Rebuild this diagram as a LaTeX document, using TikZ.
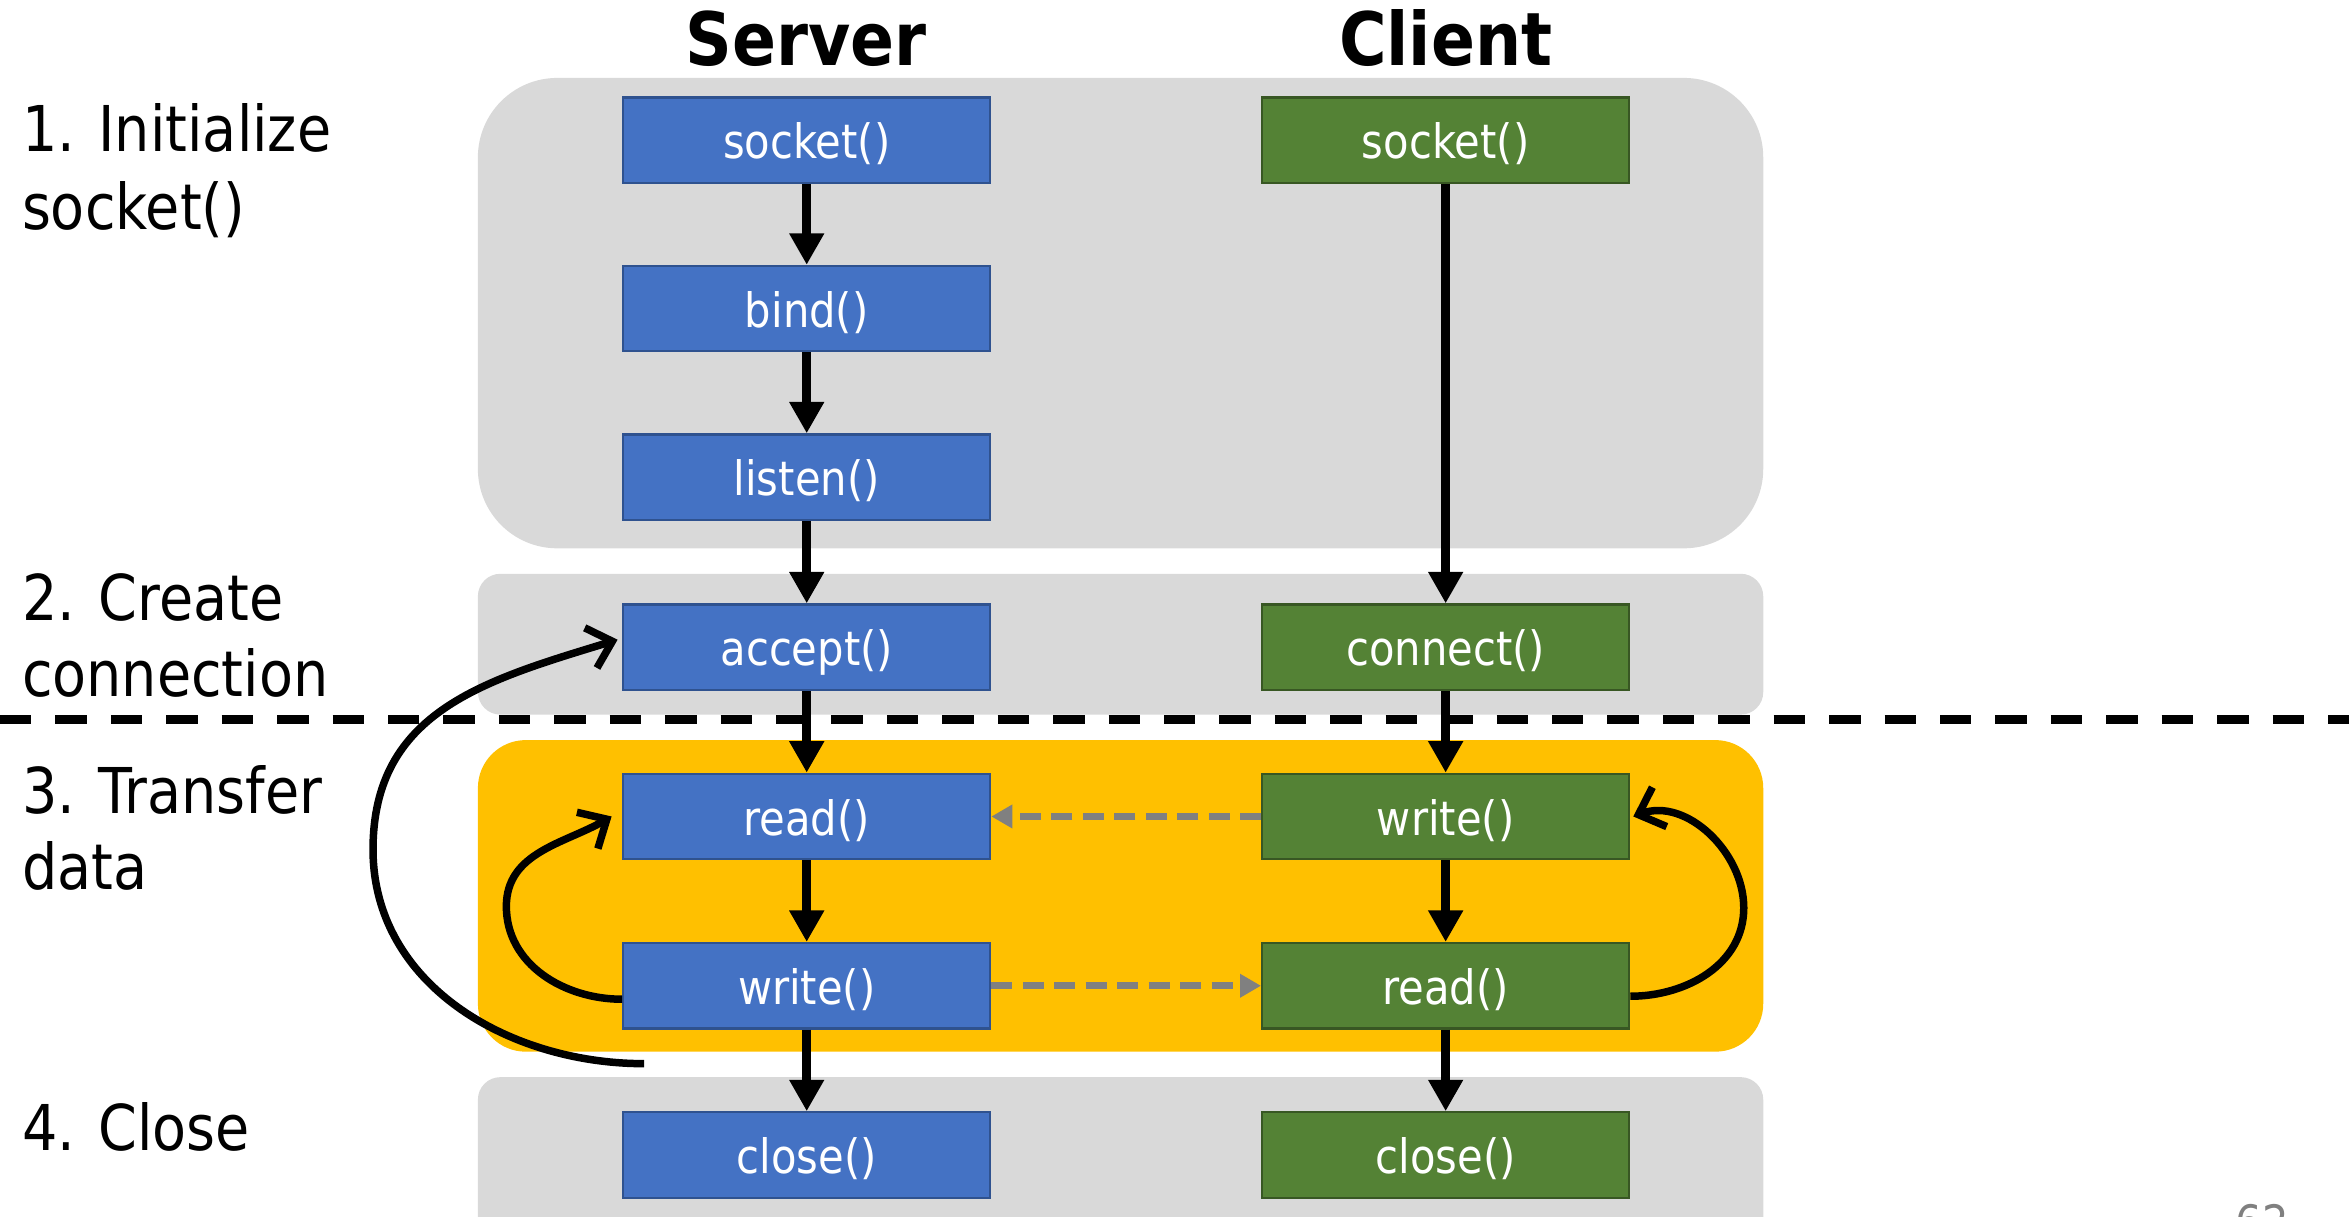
\documentclass[tikz,border=0pt]{standalone}
\usepackage{fontspec}
\setmainfont{DejaVu Sans}[FakeStretch=0.88]
\usetikzlibrary{arrows.meta}
\definecolor{srvblue}{HTML}{4472C4}
\definecolor{srvedge}{HTML}{2F528F}
\definecolor{cligreen}{HTML}{548235}
\definecolor{cliedge}{HTML}{385723}
\definecolor{panelgray}{HTML}{D9D9D9}
\definecolor{panelyellow}{HTML}{FFC000}
\definecolor{msggray}{HTML}{808080}
\begin{document}
\begin{tikzpicture}[x=0.1mm,y=-0.1mm,
  srv/.style={draw=srvedge, fill=srvblue, line width=0.15mm, minimum width=24.5mm, minimum height=5.7mm, inner sep=0pt, text height=2.9mm, text depth=0.4mm, text=white, font=\fontsize{9}{10}\selectfont},
  cli/.style={srv, draw=cliedge, fill=cligreen},
  flow/.style={line width=0.6mm, -{Triangle[length=2.1mm,width=2.2mm]}},
  loopback/.style={line width=0.5mm, -{Straight Barb[length=1.5mm,width=2.8mm]}},
  msg/.style={draw=msggray, line width=0.45mm, dash pattern=on 1.4mm off 0.7mm, -{Triangle[length=1.4mm,width=1.5mm,fill=msggray]}},
  coltitle/.style={anchor=base, inner sep=0pt, font=\fontsize{14}{16}\selectfont\bfseries},
  stage/.style={anchor=base west, inner sep=0pt, font=\fontsize{12}{14}\selectfont},
]
\useasboundingbox (0,0) rectangle (1568,812);
\clip (0,0) rectangle (1568,812);

% panels
\fill[panelgray, rounded corners=5.3mm] (319,52) rectangle (1177,366);
\fill[panelgray, rounded corners=1.5mm] (319,383) rectangle (1177,477);
\fill[panelyellow, rounded corners=3.2mm] (319,494) rectangle (1177,702);
\fill[panelgray, rounded corners=1.5mm] (319,719) rectangle (1177,850);

% titles
\node[coltitle] (srvtitle) at (538,44) {Server};
\node[coltitle] (clititle) at (965,44) {Client};

% stage labels
\node[stage] (st1a) at (14,101) {1. Initialize};
\node[stage] (st1b) at (14,153) {socket()};
\node[stage] (st2a) at (14,414.5) {2. Create};
\node[stage] (st2b) at (14,465) {connection};
\node[stage] (st3a) at (14,543) {3. Transfer};
\node[stage] (st3b) at (14,593.5) {data};
\node[stage] (st4a) at (14,768) {4. Close};

% separator
\coordinate (sepl) at (0,480);
\coordinate (sepr) at (1568,480);
\draw[line width=0.6mm, dash pattern=on 2.1mm off 1.6mm] (sepl) -- (sepr);

% server nodes
\node[srv] (ssocket) at (538.5,93.5) {socket()};
\node[srv] (sbind)   at (538.5,206) {bind()};
\node[srv] (slisten) at (538.5,318.5) {listen()};
\node[srv] (saccept) at (538.5,432) {accept()};
\node[srv] (sread)   at (538.5,545) {read()};
\node[srv] (swrite)  at (538.5,658) {write()};
\node[srv] (sclose)  at (538.5,771) {close()};

% client nodes
\node[cli] (csocket)  at (965,93.5) {socket()};
\node[cli] (cconnect) at (965,432) {connect()};
\node[cli] (cwrite)   at (965,545) {write()};
\node[cli] (cread)    at (965,658) {read()};
\node[cli] (cclose)   at (965,771) {close()};

% server flow
\draw[flow] (ssocket) -- (sbind);
\draw[flow] (sbind) -- (slisten);
\draw[flow] (slisten) -- (saccept);
\draw[flow] (saccept) -- (sread);
\draw[flow] (sread) -- (swrite);
\draw[flow] (swrite) -- (sclose);

% client flow
\draw[flow] (csocket) -- (cconnect);
\draw[flow] (cconnect) -- (cwrite);
\draw[flow] (cwrite) -- (cread);
\draw[flow] (cread) -- (cclose);

% messages
\draw[msg] (cwrite.west) -- (sread.east);
\draw[msg] (swrite.east) -- (cread.west);

% loops
\coordinate (bigstart) at (430,710);
\draw[loopback] (bigstart) to[out=180,in=270] (249,567) to[out=90,in=197,looseness=1.1] ([xshift=-0.3mm,yshift=0.5mm]saccept.west);
\draw[loopback] ([yshift=-0.9mm]swrite.west) to[out=180,in=270] (338,605) to[out=90,in=210] ([xshift=-0.7mm]sread.west);
\draw[loopback] ([yshift=-0.7mm]cread.east) to[out=0,in=270] (1164,606) to[out=90,in=20] ([xshift=0.2mm]cwrite.east);

% page number
\node[anchor=north, inner sep=0pt, text=msggray, font=\fontsize{9}{10}\selectfont] (pagenum) at (1510,803) {62};
\end{tikzpicture}
\end{document}
